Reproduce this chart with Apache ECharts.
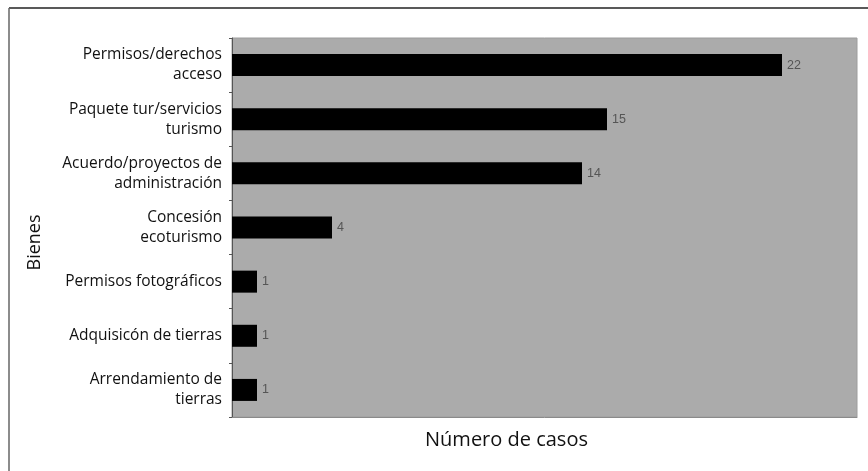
<!DOCTYPE html>
<html>
<head>
<meta charset="utf-8">
<script src="https://cdn.jsdelivr.net/npm/echarts@6/dist/echarts.min.js"></script>
<style>
  html, body { margin: 0; padding: 0; background: #fff; }
  #chart { width: 868px; height: 471px; }
</style>
</head>
<body>
<div id="chart"></div>
<script>
// Goods categories, listed top to bottom
const categories = [
  'Permisos/derechos\nacceso',
  'Paquete tur/servicios\nturismo',
  'Acuerdo/proyectos de\nadministración',
  'Concesión\necoturismo',
  'Permisos fotográficos',
  'Adquisicón de tierras',
  'Arrendamiento de\ntierras'
];
// Number of cases per category
const cases = [22, 15, 14, 4, 1, 1, 1];

const xMax = 25;

const chart = echarts.init(document.getElementById('chart'));
chart.setOption({
  backgroundColor: '#ffffff',
  animation: false,
  grid: {
    left: 232, right: 11, top: 38, bottom: 54,
    show: true,
    backgroundColor: '#ababab',
    borderColor: '#9c9c9c',
    borderWidth: 1
  },
  xAxis: {
    type: 'value',
    min: 0,
    max: xMax,
    axisLabel: { show: false },
    axisTick: { show: false },
    splitLine: { show: false },
    axisLine: { show: true, lineStyle: { color: '#8a8a8a', width: 1 } },
    name: 'Número de casos',
    nameLocation: 'middle',
    nameGap: 13,
    nameTextStyle: {
      fontFamily: 'Open Sans', fontSize: 20, color: '#111',
      padding: [0, 76, 0, 0]
    }
  },
  yAxis: {
    type: 'category',
    data: categories,
    inverse: true,
    axisLine: { show: true, lineStyle: { color: '#555', width: 1 } },
    axisTick: { show: true, length: 3, lineStyle: { color: '#555' } },
    axisLabel: {
      fontFamily: 'Open Sans',
      fontSize: 15.5,
      color: '#111',
      lineHeight: 20,
      margin: 10,
      align: 'right',
      padding: [4, 0, 0, 0]
    },
    name: 'Bienes',
    nameLocation: 'middle',
    nameRotate: 90,
    nameGap: 188,
    nameTextStyle: {
      fontFamily: 'Open Sans', fontSize: 18, color: '#111',
      padding: [0, 30, 0, 0]
    }
  },
  series: [{
    type: 'bar',
    data: cases,
    barWidth: 22,
    itemStyle: { color: '#000000' },
    label: {
      show: true,
      position: 'right',
      distance: 5,
      fontFamily: 'Liberation Sans',
      fontSize: 12.5,
      color: '#555'
    }
  }],
  graphic: [
    { type: 'line', shape: { x1: 9, y1: 8, x2: 868, y2: 8 }, style: { stroke: '#222', lineWidth: 1.5 } },
    { type: 'line', shape: { x1: 9, y1: 8, x2: 9, y2: 471 }, style: { stroke: '#666', lineWidth: 1.5 } }
  ]
});
</script>
</body>
</html>
